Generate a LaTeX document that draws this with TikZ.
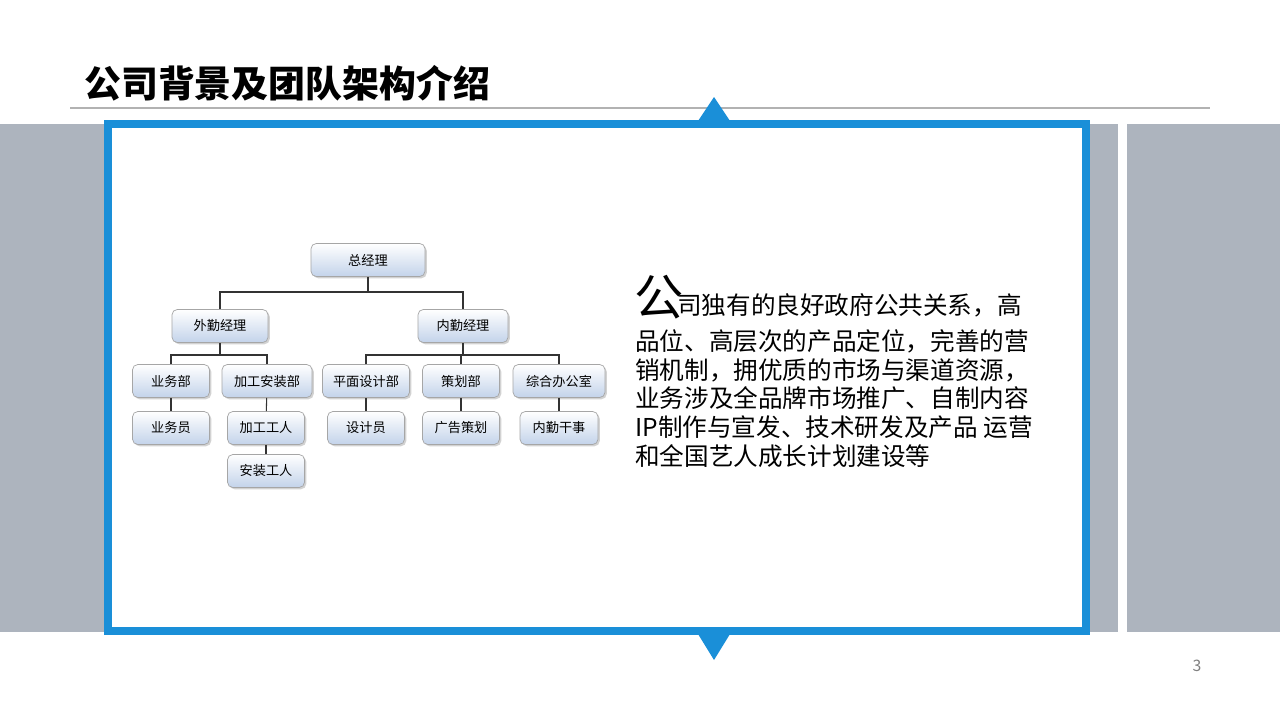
\documentclass[tikz,border=0pt]{standalone}
\usepackage{fontspec}
\setmainfont{Noto Sans CJK SC}
\usetikzlibrary{shadows}
\definecolor{bandgray}{HTML}{ADB4BE}
\definecolor{frameblue}{HTML}{1A8FD8}
\definecolor{boxblue}{HTML}{C3D3EA}
\tikzset{
  orgbox/.style={draw=gray!70, rounded corners=3pt, top color=white, bottom color=boxblue,
    drop shadow={opacity=0.35, shadow xshift=1pt, shadow yshift=-1pt},
    minimum height=0.66cm, inner sep=1pt, font=\fontsize{7.5}{9}\selectfont},
  link/.style={draw=black!80, line width=0.6pt},
}
\begin{document}
\begin{tikzpicture}[x=0.02cm,y=-0.02cm]
\useasboundingbox (0,0) rectangle (1280,720);
\fill[white] (0,0) rectangle (1280,720);
% title
\node[anchor=west, font=\fontsize{21}{24}\selectfont\bfseries] (title) at (78,83) {公司背景及团队架构介绍};
\draw[gray!60, line width=0.6pt] (70,108) -- (1210,108);
% grey bands
\fill[bandgray] (0,124) rectangle (1118,632);
\fill[bandgray] (1127,124) rectangle (1280,632);
% white frame
\draw[frameblue, line width=5pt, fill=white] (108,124) rectangle (1086,631);
\fill[frameblue] (698,121) -- (714,97) -- (730,121) -- cycle;
\fill[frameblue] (698,634) -- (714,660) -- (730,634) -- cycle;
\node[gray, font=\fontsize{9}{10}\selectfont] (page) at (1197,666) {3};
% org chart
\node[orgbox, minimum width=2.28cm] (zjl) at (368,260) {总经理};
\node[orgbox, minimum width=1.92cm] (wq) at (220,326) {外勤经理};
\node[orgbox, minimum width=1.80cm] (nq) at (463,326) {内勤经理};
\node[orgbox, minimum width=1.54cm] (ywb) at (171,381) {业务部};
\node[orgbox, minimum width=1.80cm] (jgb) at (267,381) {加工安装部};
\node[orgbox, minimum width=1.74cm] (pmb) at (366,381) {平面设计部};
\node[orgbox, minimum width=1.54cm] (chb) at (461,381) {策划部};
\node[orgbox, minimum width=1.84cm] (zhb) at (559,381) {综合办公室};
\node[orgbox, minimum width=1.54cm] (ywy) at (171,428) {业务员};
\node[orgbox, minimum width=1.54cm] (jggr) at (266,428) {加工工人};
\node[orgbox, minimum width=1.54cm] (sjy) at (366,428) {设计员};
\node[orgbox, minimum width=1.54cm] (ggch) at (461,428) {广告策划};
\node[orgbox, minimum width=1.56cm] (nqgs) at (559,428) {内勤干事};
\node[orgbox, minimum width=1.54cm] (azgr) at (266,471) {安装工人};
\coordinate (j1) at (368,292);
\coordinate (j2) at (220,355);
\coordinate (j3) at (463,355);
\draw[link] (zjl.south) -- (j1);
\draw[link] (wq.north) |- (j1) -| (nq.north);
\draw[link] (wq.south) -- (j2);
\draw[link] (ywb.north) |- (j2) -| (jgb.north);
\draw[link] (nq.south) -- (j3);
\draw[link] (pmb.north) |- (j3) -| (zhb.north);
\draw[link] (chb.north) -- (chb.north |- j3);
\draw[link] (ywb) -- (ywy);
\draw[link] (jgb) -- (jggr);
\draw[link] (jggr) -- (azgr);
\draw[link] (pmb) -- (sjy);
\draw[link] (chb) -- (ggch);
\draw[link] (zhb) -- (nqgs);
% text block
\node[anchor=base west, inner sep=0pt, font=\fontsize{28}{30}\selectfont] (big) at (634,315) {公};
\node[anchor=base west, inner sep=0pt, font=\fontsize{14}{16.4}\selectfont] (line1) at (677,314) {司独有的良好政府公共关系，高};
\node[anchor=north west, inner sep=0pt, align=left, font=\fontsize{14}{16.4}\selectfont] (body) at (635,329)
  {品位、高层次的产品定位，完善的营\\销机制，拥优质的市场与渠道资源，\\业务涉及全品牌市场推广、自制内容\\IP制作与宣发、技术研发及产品 运营\\和全国艺人成长计划建设等};
\end{tikzpicture}
\end{document}
